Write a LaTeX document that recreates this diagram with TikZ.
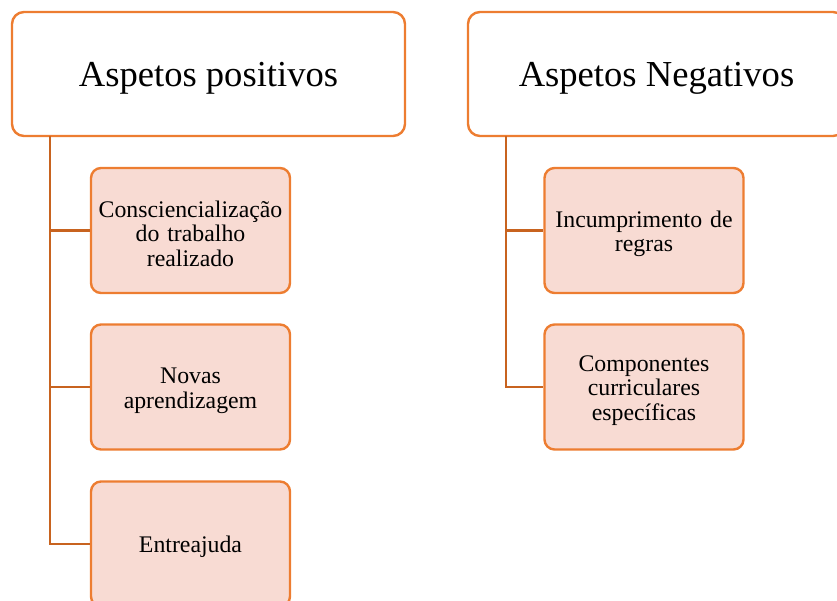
\documentclass[tikz,border=0pt]{standalone}
\usepackage{fontspec}
\setmainfont{Liberation Serif}
\definecolor{edgeor}{HTML}{ED7D31}
\definecolor{connor}{HTML}{C8631F}
\definecolor{fillor}{HTML}{F8DBD3}
\tikzset{
  headbox/.style={draw=edgeor, line width=2.4pt, fill=white, rounded corners=12pt,
    inner sep=0pt, text height=25pt, text depth=0pt, font=\fontsize{36.6}{44}\selectfont},
  childbox/.style={draw=edgeor, line width=2.4pt, fill=fillor, rounded corners=10pt,
    minimum width=199pt, minimum height=125pt, inner sep=0pt, text width=196pt,
    align=center, font=\fontsize{23.8}{24.6}\selectfont},
  conn/.style={draw=connor, line width=2.4pt}
}
\newcommand{\toplift}{\rule{0pt}{23pt}}
\begin{document}
\begin{tikzpicture}[x=1pt,y=-1pt]
\useasboundingbox (0,0) rectangle (837,600);
\clip (0,0) rectangle (837,600);
\coordinate (lt) at (50,136);
\coordinate (rt) at (506,136);
% headers
\node[headbox, minimum width=393pt, minimum height=124pt] (hL) at (208.5,74) {Aspetos positivos};
\node[headbox, minimum width=377pt, minimum height=124pt] (hR) at (656.5,74) {Aspetos Negativos};
% children
\node[childbox] (p1) at (190.5,230.5) {\toplift Consciencialização\\do trabalho\\realizado};
\node[childbox] (p2) at (190.5,387) {\toplift Novas\\aprendizagem};
\node[childbox] (p3) at (190.5,544) {\toplift Entreajuda};
\node[childbox] (n1) at (644,230.5) {\toplift Incumprimento de\\regras};
\node[childbox] (n2) at (644,387) {\toplift Componentes\\curriculares\\específicas};
% connectors
\draw[conn] (lt) |- (p3.west);
\draw[conn] (lt |- p1.west) -- (p1.west);
\draw[conn] (lt |- p2.west) -- (p2.west);
\draw[conn] (rt) |- (n2.west);
\draw[conn] (rt |- n1.west) -- (n1.west);
\end{tikzpicture}
\end{document}
